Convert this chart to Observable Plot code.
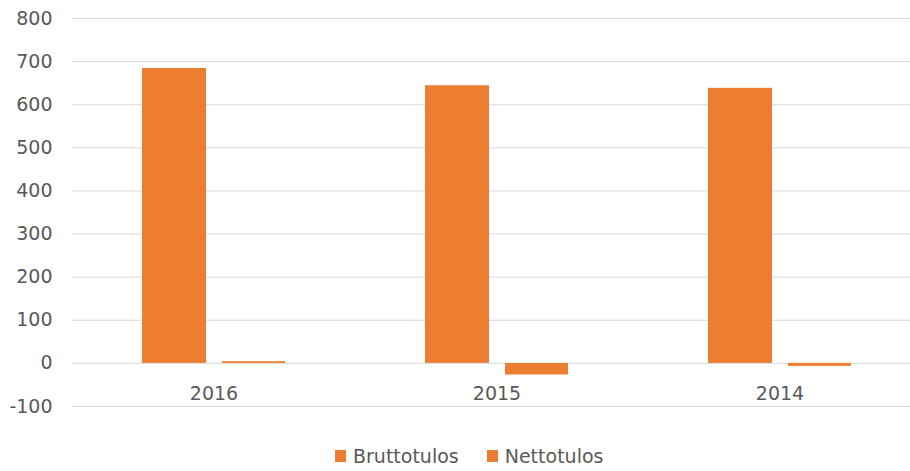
<!DOCTYPE html>
<html><head><meta charset="utf-8">
<script src="https://cdn.jsdelivr.net/npm/d3@7"></script>
<script src="https://cdn.jsdelivr.net/npm/@observablehq/plot@0.6"></script>
<style>
body{margin:0;background:#fff;font-family:"DejaVu Sans",sans-serif;overflow:hidden}
#legend{height:31px;display:flex;justify-content:flex-start;align-items:center;gap:28px;font-size:19px;color:#595959;padding-left:335px}
#legend .item{display:flex;align-items:center}
#legend span.sw{display:inline-block;width:11px;height:12px;background:#ED7D31;margin-right:7px}
</style></head>
<body><div id="chart"></div><div id="legend"></div>
<script>
const years = ["2016", "2015", "2014"];
const brutto = [684, 644, 638];
const netto = [4, -27, -7];
const seriesNames = ["Bruttotulos", "Nettotulos"];
const yTicks = [-100, 0, 100, 200, 300, 400, 500, 600, 700, 800];
const color = "#ED7D31";

const bData = years.map((y, i) => ({year: y, value: brutto[i]}));
const nData = years.map((y, i) => ({year: y, value: netto[i]}));

const chart = Plot.plot({
  width: 910, height: 440,
  marginTop: 18, marginBottom: 34, marginLeft: 72, marginRight: 0,
  style: {fontFamily: "'DejaVu Sans', sans-serif", fontSize: "19px", color: "#595959"},
  x: {domain: years, range: [72, 921], padding: 0, axis: null},
  y: {domain: [-100, 800], ticks: yTicks},
  marks: [
    Plot.gridY(yTicks, {stroke: "#d9d9d9", strokeOpacity: 1, strokeWidth: 1}),
    Plot.axisY(yTicks, {tickSize: 0, tickPadding: 20, label: null, fill: "#595959", fontSize: 19, tickFormat: d => String(d)}),
    Plot.barY(bData, {x: "year", y: "value", fill: color, insetLeft: 70, insetRight: 149}),
    Plot.barY(nData, {x: "year", y: "value", fill: color, insetLeft: 150, insetRight: 70}),
    Plot.text(years, {x: d => d, y: [0, 0, 0], text: d => d, dy: 31, fill: "#595959", fontSize: 19})
  ]
});
document.getElementById("chart").appendChild(chart);
const lg = document.getElementById("legend");
seriesNames.forEach(n => {
  const s = document.createElement("span");
  s.className = "item";
  s.innerHTML = `<span class="sw"></span>${n}`;
  lg.appendChild(s);
});
</script></body></html>
